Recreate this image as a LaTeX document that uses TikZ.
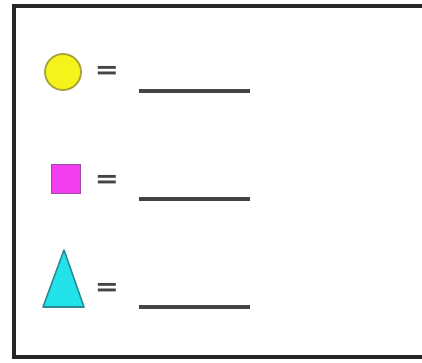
\documentclass[tikz,border=0pt]{standalone}
\usepackage{fontspec}
\usepackage{tikz}
\usetikzlibrary{positioning,calc}
\newfontfamily\eqfont{DejaVu Sans}
\definecolor{dotyellow}{HTML}{F4F41C}
\definecolor{dotedge}{HTML}{A6A23A}
\definecolor{sqpink}{HTML}{F23EEE}
\definecolor{sqedge}{HTML}{A04CA4}
\definecolor{tricyan}{HTML}{22E2EA}
\definecolor{triedge}{HTML}{2C8C94}
\definecolor{inkgray}{HTML}{444444}

\begin{document}
\begin{tikzpicture}[
  x=1pt, y=-1pt,
  frame/.style={draw=black!85, line width=3.8pt},
  eqsign/.style={font=\eqfont\bfseries\fontsize{25}{25}\selectfont, text=inkgray, inner sep=0pt, xscale=1.15},
  blank/.style={draw=inkgray, line width=3.2pt}
]
\useasboundingbox (0,0) rectangle (422,363);
\clip (0,0) rectangle (422,363);
% -- Outer frame, open past the right edge.
\draw[frame] (440,6) -- (14,6) -- (14,357) -- (440,357);

% -- Key shapes.
\node[circle, draw=dotedge, fill=dotyellow, line width=1.8pt, minimum size=36pt, inner sep=0pt] (dot) at (63,72) {};
\node[rectangle, draw=sqedge, fill=sqpink, line width=1.4pt, minimum size=29pt, inner sep=0pt] (sq) at (66,179) {};
\coordinate (apex) at (64,250);
\draw[draw=triedge, fill=tricyan, line width=1.6pt, line join=round] (apex) -- (43,307) -- (84,307) -- cycle;

% -- Equals signs and blanks, one row each.
\node[eqsign] (eq1) at (107,72)  {=};
\node[eqsign] (eq2) at (107,181) {=};
\node[eqsign] (eq3) at (107,289) {=};
\foreach \r/\y in {1/91, 2/199, 3/307}
  \draw[blank] (139,\y) coordinate (b\r a) -- (250,\y) coordinate (b\r b);
\end{tikzpicture}
\end{document}
